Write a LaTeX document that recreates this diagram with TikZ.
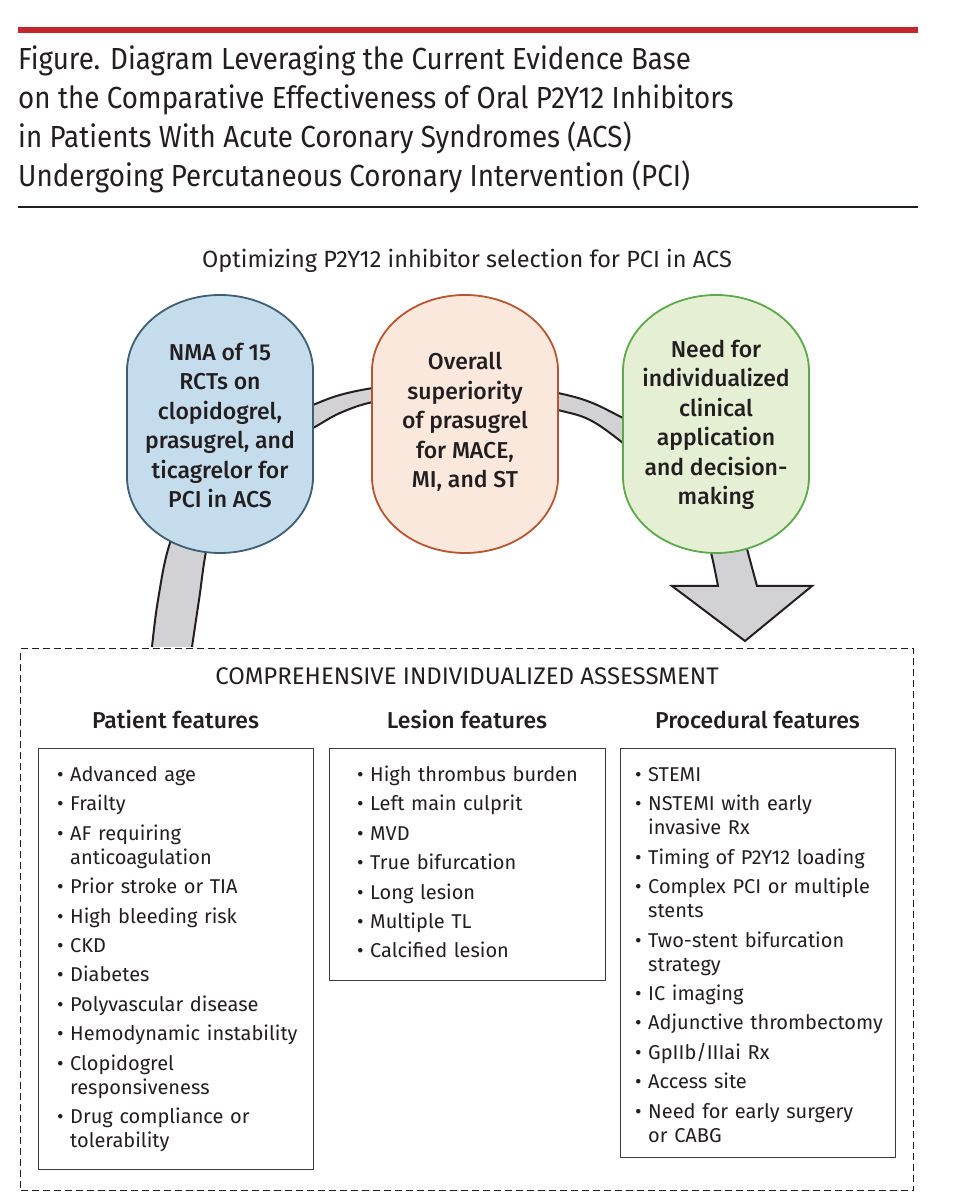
\documentclass[tikz,border=0pt]{standalone}
\usepackage{fontspec}
\setmainfont{Fira Sans}
\newfontfamily\medfont{Fira Sans Medium}
\newfontfamily\titlefont{Fira Sans}[FakeStretch=0.91]
\usetikzlibrary{calc,positioning}

\definecolor{ink}{HTML}{231F20}
\definecolor{jamared}{HTML}{C1272D}
\definecolor{bandgray}{HTML}{D2D2D4}
\definecolor{boxgray}{HTML}{3C3C3C}
\definecolor{nmafill}{HTML}{C5DCEC}
\definecolor{nmaline}{HTML}{3F5E73}
\definecolor{supfill}{HTML}{FBE8DD}
\definecolor{supline}{HTML}{B65530}
\definecolor{needfill}{HTML}{E5EFD4}
\definecolor{needline}{HTML}{5BA94A}

% capsule drawn under each oval label
\newcommand{\pill}[3]{%
  \filldraw[fill=#2, draw=#3, line width=1.8pt]
    ($(#1)+(-93,-53)$) -- ++(0,106)
    arc[start angle=180, end angle=0, x radius=93pt, y radius=76pt]
    -- ++(0,-106)
    arc[start angle=0, end angle=-180, x radius=93pt, y radius=76pt] -- cycle;}

% bullet item with hanging indent
\newcommand{\itm}[1]{\par\hangindent=13pt\hangafter=1\noindent\makebox[13pt][l]{\textbullet}#1}

\begin{document}
\begin{tikzpicture}[x=1pt, y=1pt,
  every node/.style={inner sep=0pt, text=ink},
  ovaltext/.style={align=center, font=\medfont\fontsize{23}{29.5}\selectfont},
  colhead/.style={anchor=base, font=\medfont\fontsize{23}{27}\selectfont},
  listbox/.style={draw=boxgray, line width=1.4pt, anchor=north west, minimum width=275pt},
  itemlist/.style={anchor=north west, text width=262pt, align=left,
    font=\fontsize{20}{24}\selectfont\setlength{\parskip}{5.4pt}}
]
\useasboundingbox (0,0) rectangle (960,1200);
\fill[white] (0,0) rectangle (960,1200);

% heading
\draw[jamared, line width=6pt] (18,1170) -- (918,1170);
\node[anchor=base west, align=left, font=\titlefont\fontsize{30.5}{39}\selectfont] (title) at (18,1013)
  {Figure. Diagram Leveraging the Current Evidence Base\\
   on the Comparative Effectiveness of Oral P2Y12 Inhibitors\\
   in Patients With Acute Coronary Syndromes (ACS)\\
   Undergoing Percutaneous Coronary Intervention (PCI)};
\draw[ink, line width=2pt] (18,993) -- (918,993);
\node[anchor=base, font=\fontsize{23.5}{26}\selectfont] (aim) at (467,932)
  {Optimizing P2Y12 inhibitor selection for PCI in ACS};

% dashed frame
\node[draw=ink, line width=1.3pt, dash pattern=on 7pt off 4pt, anchor=north west,
  minimum width=893pt, minimum height=542pt] (assess) at (20,552) {};

% grey band running behind the ovals
\filldraw[fill=bandgray, draw=ink, line width=2pt, line join=miter]
  plot[smooth, tension=0.6] coordinates {(152,553) (158,600) (170,657) (195,710) (235,755)
    (280,780) (313,795) (340,805) (373,812) (420,818) (465,819) (510,816) (558,807)
    (590,798) (623,782) (665,760) (705,735) (728,708) (740,680) (746,655) (757,614)}
  -- (812,614) -- (745,559) -- (672,614)
  -- plot[smooth, tension=0.6] coordinates {(718,614) (709,655) (698,678) (680,703)
    (655,730) (623,757) (590,780) (558,790) (510,801) (465,805) (420,804) (373,798)
    (340,787) (313,772) (285,758) (255,735) (225,695) (208,657) (199,600) (192,553)};

% ovals
\coordinate (c1) at (220,776);
\coordinate (c2) at (465,776);
\coordinate (c3) at (716,776);
\pill{c1}{nmafill}{nmaline}
\pill{c2}{supfill}{supline}
\pill{c3}{needfill}{needline}
\node[ovaltext] (nma) at (220,774.5) {NMA of 15\\RCTs on\\clopidogrel,\\prasugrel, and\\ticagrelor for\\PCI in ACS};
\node[ovaltext] (sup) at (465,778) {Overall\\superiority\\of prasugrel\\for MACE,\\MI, and ST};
\node[ovaltext] (need) at (716,775) {Need for\\individualized\\clinical\\application\\and decision-\\making};

% assessment
\node[anchor=base, font=\fontsize{24}{26}\selectfont] (cia) at (467,515) {COMPREHENSIVE INDIVIDUALIZED ASSESSMENT};
\node[colhead] (patHead) at (175.5,471) {Patient features};
\node[colhead] (lesHead) at (467,471) {Lesion features};
\node[colhead] (proHead) at (757.5,471) {Procedural features};

\node[listbox, minimum height=421pt] (patBox) at (38,452) {};
\node[listbox, minimum width=276pt, minimum height=232pt] (lesBox) at (329,452) {};
\node[listbox, minimum height=409pt] (proBox) at (620,452) {};

\node[itemlist] (patList) at (57,448) {%
  \itm{Advanced age}
  \itm{Frailty}
  \itm{AF requiring\newline anticoagulation}
  \itm{Prior stroke or TIA}
  \itm{High bleeding risk}
  \itm{CKD}
  \itm{Diabetes}
  \itm{Polyvascular disease}
  \itm{Hemodynamic instability}
  \itm{Clopidogrel\newline responsiveness}
  \itm{Drug compliance or\newline tolerability}\par};
\node[itemlist] (lesList) at (357,448) {%
  \itm{High thrombus burden}
  \itm{Left main culprit}
  \itm{MVD}
  \itm{True bifurcation}
  \itm{Long lesion}
  \itm{Multiple TL}
  \itm{Calcified lesion}\par};
\node[itemlist] (proList) at (635,448) {%
  \itm{STEMI}
  \itm{NSTEMI with early\newline invasive Rx}
  \itm{Timing of P2Y12 loading}
  \itm{Complex PCI or multiple\newline stents}
  \itm{Two-stent bifurcation\newline strategy}
  \itm{IC imaging}
  \itm{Adjunctive thrombectomy}
  \itm{GpIIb/IIIai Rx}
  \itm{Access site}
  \itm{Need for early surgery\newline or CABG}\par};
\end{tikzpicture}
\end{document}
